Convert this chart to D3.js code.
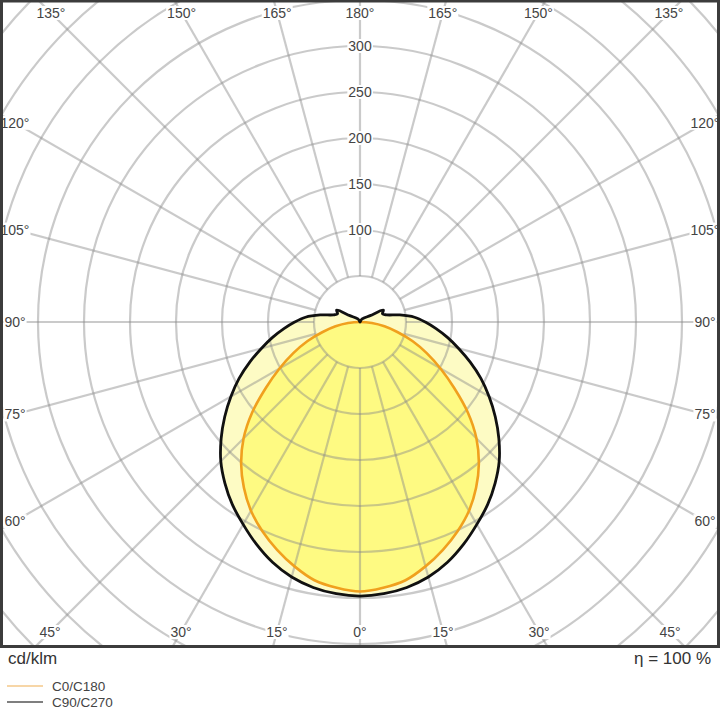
<!DOCTYPE html>
<html><head><meta charset="utf-8">
<script src="https://cdn.jsdelivr.net/npm/d3@7"></script>
<style>body{margin:0;background:#fff}svg{display:block}</style>
</head><body><svg id="c" width="720" height="710"></svg>
<script>
// ---- data (cd/klm vs gamma angle from nadir) ----
const c0Angles  = [0,5,10,15,20,25,30,35,40,45,50,55,60,65,70,75,80,85,90];
const c0c180    = [293,290,285,275,263.5,251,237,220,201,179,153,125,101,80,61,42,27,13,0];
const c90Angles = [0,5,10,15,20,25,30,35,40,45,50,55,60,65,70,75,80,85,90,95,100,105,110,117,122,135,150,180];
const c90c270   = [298,296.5,293,287,278,266.5,254,242,228.5,214,197,179.5,162,145,127.5,111,96.5,83,71,59.5,44,30,26,28.5,13,6,3,0];
const ringValues  = [50,100,150,200,250,300,350,400,450,500,550];
const ringLabels  = [100,150,200,250,300];
const spokeAngles = [0,15,30,45,60,75,90,105,120,135,150,165,180];
const legendNames = ["C0/C180","C90/C270"];
const unitText = "cd/klm";
const etaText = "η = 100 %";

const W=720, H=647, cx=360, cy=322;
const svg = d3.select("#c");
const r = d3.scaleLinear().domain([0,100]).range([0,92]);
const rad = d=>d*Math.PI/180;

svg.append("defs").append("clipPath").attr("id","frameClip")
  .append("rect").attr("x",0).attr("y",0).attr("width",W).attr("height",H);

const g = svg.append("g").attr("clip-path","url(#frameClip)")
  .append("g").attr("transform",`translate(${cx},${cy})`);

function fullPts(angles, vals){
  const pts=[];
  angles.forEach((a,i)=>pts.push([Math.PI - rad(a), r(vals[i])]));
  for(let i=angles.length-2;i>=1;i--) pts.push([Math.PI + rad(angles[i]), r(vals[i])]);
  return pts;
}
const line = d3.lineRadial().angle(d=>d[0]).radius(d=>d[1]).curve(d3.curveCatmullRomClosed.alpha(0.5));
const blackPts = fullPts(c90Angles, c90c270);
const orangePts = fullPts(c0Angles, c0c180);

g.append("path").attr("d",line(blackPts)).attr("fill","#fdfbc4");
g.append("path").attr("d",line(orangePts)).attr("fill","#fefa82");

// grid
const grid = g.append("g").attr("fill","none").attr("stroke","#8a8a8a").attr("stroke-opacity",0.45).attr("stroke-width",2.2);
grid.selectAll("circle").data(ringValues).join("circle").attr("r",d=>r(d));
const spokes=[];
spokeAngles.forEach(a=>{ spokes.push(a); if(a>0&&a<180) spokes.push(-a); });
grid.selectAll("line").data(spokes).join("line")
  .attr("x1",d=>r(50)*Math.sin(rad(d))).attr("y1",d=>r(50)*Math.cos(rad(d)))
  .attr("x2",d=>1000*Math.sin(rad(d))).attr("y2",d=>1000*Math.cos(rad(d)));

g.append("path").attr("d",line(orangePts)).attr("fill","none").attr("stroke","#f0a01e").attr("stroke-width",2.6);
g.append("path").attr("d",line(blackPts)).attr("fill","none").attr("stroke","#111").attr("stroke-width",2.8).attr("stroke-linejoin","round");

// labels
const font="'Liberation Sans', Arial, sans-serif";
const lab = svg.append("g").attr("font-family",font).attr("font-size",14).attr("fill","#444");
function addLabel(x,y,t){
  const gg = lab.append("g");
  const rect = gg.append("rect").attr("fill","#fff");
  const tx = gg.append("text").attr("x",x).attr("y",y).attr("text-anchor","middle").attr("dominant-baseline","central").text(t);
  const b = tx.node().getBBox();
  rect.attr("x",b.x-1).attr("y",b.y+1).attr("width",b.width+2).attr("height",b.height-2);
}
ringLabels.forEach(v=>addLabel(cx, cy - r(v), String(v)));
const L=15, R=705, T=13, B=632;
spokes.forEach(a=>{
  const dx=Math.sin(rad(a)), dy=Math.cos(rad(a));
  let t=Infinity;
  if(Math.abs(dx)>1e-9) t=Math.min(t, (dx>0? R-cx : cx-L)/Math.abs(dx));
  if(dy>1e-9) t=Math.min(t,(B-cy)/dy);
  if(dy<-1e-9) t=Math.min(t,(cy-T)/(-dy));
  addLabel(cx+t*dx, cy+t*dy, Math.abs(a)+"°");
});

// frame
svg.append("rect").attr("x",1.5).attr("y",1).attr("width",717).attr("height",645.5)
  .attr("fill","none").attr("stroke","#3c3c3c").attr("stroke-width",3);

// footer
svg.append("text").attr("x",8).attr("y",658).attr("dominant-baseline","central")
  .attr("font-family",font).attr("font-size",17).attr("fill","#333").text(unitText);
svg.append("text").attr("x",711).attr("y",658).attr("dominant-baseline","central").attr("text-anchor","end")
  .attr("font-family",font).attr("font-size",17).attr("fill","#333").style("white-space","pre").text(etaText);

const legColors=["#f5c98a","#555"];
const legY=[686,702];
legendNames.forEach((n,i)=>{
  svg.append("line").attr("x1",7).attr("x2",43).attr("y1",legY[i]).attr("y2",legY[i]).attr("stroke",legColors[i]).attr("stroke-width",1.5);
  svg.append("text").attr("x",52).attr("y",legY[i]).attr("dominant-baseline","central")
    .attr("font-family",font).attr("font-size",13.5).attr("fill","#444").text(n);
});
</script></body></html>
